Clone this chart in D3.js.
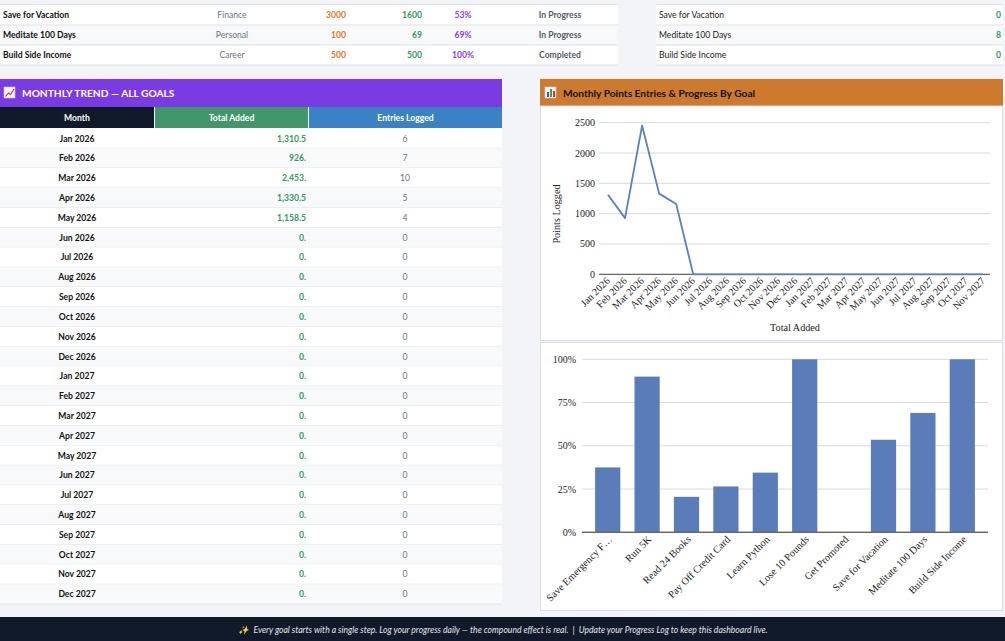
<!DOCTYPE html>
<html><head><meta charset="utf-8">
<script src="https://cdn.jsdelivr.net/npm/d3@7"></script>
<style>
html,body{margin:0;padding:0;background:#f3f4f7;overflow:hidden;}
svg{display:block;}
</style></head>
<body>
<svg id="c" width="1005" height="641"></svg>
<script>
// ---------- DATA ----------
const topGoals = ["Save for Vacation", "Meditate 100 Days", "Build Side Income"];
const topCategories = ["Finance", "Personal", "Career"];
const topTargets = [3000, 100, 500];
const topCurrent = [1600, 69, 500];
const topPct = ["53%", "69%", "100%"];
const topStatus = ["In Progress", "In Progress", "Completed"];
const sideValues = [0, 8, 0];

const months = ["Jan 2026","Feb 2026","Mar 2026","Apr 2026","May 2026","Jun 2026","Jul 2026","Aug 2026","Sep 2026","Oct 2026","Nov 2026","Dec 2026",
  "Jan 2027","Feb 2027","Mar 2027","Apr 2027","May 2027","Jun 2027","Jul 2027","Aug 2027","Sep 2027","Oct 2027","Nov 2027","Dec 2027"];
const totals = [1310.5, 926, 2453, 1330.5, 1158.5, 0, 0, 0, 0, 0, 0, 0, 0, 0, 0, 0, 0, 0, 0, 0, 0, 0, 0, 0];
const entries = [6, 7, 10, 5, 4, 0, 0, 0, 0, 0, 0, 0, 0, 0, 0, 0, 0, 0, 0, 0, 0, 0, 0, 0];
const chartMonthCount = 23;
const yTicksLine = [0, 500, 1000, 1500, 2000, 2500];

const goals = ["Save Emergency F…","Run 5K","Read 24 Books","Pay Off Credit Card","Learn Python","Lose 10 Pounds","Get Promoted","Save for Vacation","Meditate 100 Days","Build Side Income"];
const progress = [0.375, 0.90, 0.205, 0.265, 0.345, 1.0, 0, 0.535, 0.69, 1.0];
const yTicksBar = [0, 0.25, 0.5, 0.75, 1];

const footerText = "✨  Every goal starts with a single step. Log your progress daily — the compound effect is real.  |  Update your Progress Log to keep this dashboard live.";

// ---------- DRAW ----------
const svg = d3.select("#c");
const SANS = "Lato, 'Open Sans', sans-serif";
const SERIF = "'Liberation Serif', 'DejaVu Serif', serif";

// --- top goal rows (left table) ---
const rowY = [5, 25, 45];
const topG = svg.append("g");
topG.append("rect").attr("x",0).attr("y",4).attr("width",618).attr("height",61).attr("fill","#fff");
topG.append("rect").attr("x",0).attr("y",25).attr("width",618).attr("height",20).attr("fill","#f8f9fb");
[4.5,25,45,65].forEach(y=>topG.append("line").attr("x1",0).attr("x2",618).attr("y1",y).attr("y2",y).attr("stroke","#dfe2e7").attr("stroke-width",1.2));
topGoals.forEach((g,i)=>{
  const cy = rowY[i]+13;
  topG.append("text").attr("x",3).attr("y",cy).text(g).attr("font-family",SANS).attr("font-size",8.6).attr("font-weight",700).attr("fill","#111");
  topG.append("text").attr("x",232).attr("y",cy).text(topCategories[i]).attr("text-anchor","middle").attr("font-family",SANS).attr("font-size",8.6).attr("fill","#6b7280");
  topG.append("text").attr("x",346).attr("y",cy).text(topTargets[i]).attr("text-anchor","end").attr("font-family",SANS).attr("font-size",8.6).attr("font-weight",700).attr("fill","#e07a1f");
  topG.append("text").attr("x",422).attr("y",cy).text(topCurrent[i]).attr("text-anchor","end").attr("font-family",SANS).attr("font-size",8.6).attr("font-weight",700).attr("fill","#2f9a62");
  topG.append("text").attr("x",463).attr("y",cy).text(topPct[i]).attr("text-anchor","middle").attr("font-family",SANS).attr("font-size",8.6).attr("font-weight",700).attr("fill","#8a3ef0");
  topG.append("text").attr("x",560).attr("y",cy).text(topStatus[i]).attr("text-anchor","middle").attr("font-family",SANS).attr("font-size",8.6).attr("font-weight",700).attr("fill","#555c66");
});
// right small table
topG.append("rect").attr("x",656).attr("y",4).attr("width",347).attr("height",61).attr("fill","#fff");
topG.append("rect").attr("x",656).attr("y",25).attr("width",347).attr("height",20).attr("fill","#f8f9fb");
[4.5,25,45,65].forEach(y=>topG.append("line").attr("x1",656).attr("x2",1003).attr("y1",y).attr("y2",y).attr("stroke","#dfe2e7").attr("stroke-width",1.2));
topGoals.forEach((g,i)=>{
  const cy = rowY[i]+13;
  topG.append("text").attr("x",659).attr("y",cy).text(g).attr("font-family",SANS).attr("font-size",8.6).attr("fill","#222");
  topG.append("text").attr("x",1001).attr("y",cy).text(sideValues[i]).attr("text-anchor","end").attr("font-family",SANS).attr("font-size",8.6).attr("font-weight",700).attr("fill","#2f9a62");
});

// --- Monthly trend table ---
const L = svg.append("g");
L.append("rect").attr("x",0).attr("y",79).attr("width",502).attr("height",28).attr("fill","#7a3be3");
// icon
L.append("rect").attr("x",4).attr("y",87).attr("width",11).attr("height",11).attr("fill","#f4f1f7").attr("stroke","#cfc6d8").attr("stroke-width",0.6);
L.append("polyline").attr("points","5.5,96.5 8.5,93 10.5,94.5 14,89").attr("fill","none").attr("stroke","#d9342b").attr("stroke-width",1.1);
L.append("text").attr("x",22).attr("y",97).text("MONTHLY TREND — ALL GOALS").attr("font-family",SANS).attr("font-size",10.2).attr("font-weight",700).attr("fill","#fff");
const cols = [{x:0,w:154,c:"#111a2b",t:"Month"},{x:155,w:153,c:"#43956b",t:"Total Added"},{x:309,w:193,c:"#3a82c4",t:"Entries Logged"}];
cols.forEach(c=>{
  L.append("rect").attr("x",c.x).attr("y",107).attr("width",c.w).attr("height",21).attr("fill",c.c);
  L.append("text").attr("x",c.x+c.w/2).attr("y",120.5).text(c.t).attr("text-anchor","middle").attr("font-family",SANS).attr("font-size",8.6).attr("font-weight",700).attr("fill","#fff");
});
const rowScale = d3.scaleBand().domain(months).range([128.5, 604]);
const fmtTotal = v => d3.format(",")(v) + (Number.isInteger(v) ? "." : "");
months.forEach((m,i)=>{
  const y0 = rowScale(m), h = rowScale.bandwidth(), cy = y0 + h/2 + 3.2;
  L.append("rect").attr("x",0).attr("y",y0).attr("width",502).attr("height",h).attr("fill", i%2===0 ? "#ffffff" : "#f8f9fb");
  L.append("line").attr("x1",0).attr("x2",502).attr("y1",y0+h).attr("y2",y0+h).attr("stroke","#e1e4e9").attr("stroke-width",1);
  L.append("text").attr("x",77).attr("y",cy).text(m).attr("text-anchor","middle").attr("font-family",SANS).attr("font-size",8.6).attr("font-weight",700).attr("fill","#111");
  L.append("text").attr("x",306).attr("y",cy).text(fmtTotal(totals[i])).attr("text-anchor","end").attr("font-family",SANS).attr("font-size",8.6).attr("font-weight",700).attr("fill","#2f9a62");
  L.append("text").attr("x",405).attr("y",cy).text(entries[i]).attr("text-anchor","middle").attr("font-family",SANS).attr("font-size",8.6).attr("fill","#6b7280");
});

// --- Right panel ---
const R = svg.append("g");
R.append("rect").attr("x",540).attr("y",79).attr("width",463).attr("height",27).attr("fill","#cd7a2e");
// bar icon
R.append("rect").attr("x",545).attr("y",87).attr("width",11).attr("height",11).attr("fill","#f4f4f6").attr("stroke","#cfcfd6").attr("stroke-width",0.6);
R.append("rect").attr("x",547).attr("y",92).attr("width",2).attr("height",5).attr("fill","#2a62c9");
R.append("rect").attr("x",550).attr("y",89).attr("width",2).attr("height",8).attr("fill","#3aa356");
R.append("rect").attr("x",553).attr("y",91).attr("width",2).attr("height",6).attr("fill","#d23a2b");
R.append("text").attr("x",563).attr("y",96.5).text("Monthly Points Entries & Progress By Goal").attr("font-family",SANS).attr("font-size",10.2).attr("font-weight",700).attr("fill","#111");

// line chart box
R.append("rect").attr("x",540.5).attr("y",106).attr("width",462).attr("height",234.5).attr("fill","#fff").attr("stroke","#d9dce1");
const lineMonths = months.slice(0, chartMonthCount);
const lineVals = totals.slice(0, chartMonthCount);
const xL = d3.scalePoint().domain(lineMonths).range([608, 983]);
const yL = d3.scaleLinear().domain([0, 2500]).range([274.3, 122.7]);
const lg = R.append("g");
yTicksLine.forEach(t=>{
  lg.append("line").attr("x1",599).attr("x2",990).attr("y1",yL(t)).attr("y2",yL(t)).attr("stroke", t===0 ? "#666" : "#dadada").attr("stroke-width", t===0?1.2:1);
  lg.append("text").attr("x",595).attr("y",yL(t)+3.5).text(t).attr("text-anchor","end").attr("font-family",SERIF).attr("font-size",10).attr("fill","#222");
});
lg.append("path").datum(lineVals).attr("fill","none").attr("stroke","#5b7fbe").attr("stroke-width",1.8).attr("stroke-linejoin","round")
  .attr("d", d3.line().x((d,i)=>xL(lineMonths[i])).y(d=>yL(d)));
lineMonths.forEach(m=>{
  lg.append("text").attr("transform",`translate(${xL(m)+2.5},${281.5}) rotate(-45)`).text(m).attr("text-anchor","end").attr("font-family",SERIF).attr("font-size",10.2).attr("fill","#222");
});
lg.append("text").attr("transform","translate(560,214) rotate(-90)").text("Points Logged").attr("text-anchor","middle").attr("font-family",SERIF).attr("font-size",10.2).attr("fill","#222");
lg.append("text").attr("x",795).attr("y",331).text("Total Added").attr("text-anchor","middle").attr("font-family",SERIF).attr("font-size",10.2).attr("fill","#222");

// bar chart box
R.append("rect").attr("x",540.5).attr("y",342.5).attr("width",462).attr("height",268).attr("fill","#fff").attr("stroke","#d9dce1");
const xB = d3.scaleBand().domain(goals).range([588, 982]).paddingInner(0.36).paddingOuter(0.18);
const yB = d3.scaleLinear().domain([0, 1]).range([532.3, 359.3]);
const bg = R.append("g");
yTicksBar.forEach(t=>{
  bg.append("line").attr("x1",582).attr("x2",988).attr("y1",yB(t)).attr("y2",yB(t)).attr("stroke", t===0 ? "#666" : "#dadada").attr("stroke-width", t===0?1.2:1);
  bg.append("text").attr("x",576).attr("y",yB(t)+3.5).text(d3.format(".0%")(t)).attr("text-anchor","end").attr("font-family",SERIF).attr("font-size",10).attr("fill","#222");
});
bg.selectAll("rect.bar").data(progress).enter().append("rect").attr("class","bar")
  .attr("x",(d,i)=>xB(goals[i])).attr("width",xB.bandwidth())
  .attr("y",d=>yB(d)).attr("height",d=>yB(0)-yB(d)).attr("fill","#5a7dba");
bg.append("line").attr("x1",582).attr("x2",988).attr("y1",yB(0)).attr("y2",yB(0)).attr("stroke","#666").attr("stroke-width",1.2);
goals.forEach(g=>{
  bg.append("text").attr("transform",`translate(${xB(g)+xB.bandwidth()/2+5},${540}) rotate(-45)`).text(g).attr("text-anchor","end").attr("font-family",SERIF).attr("font-size",10.3).attr("fill","#222");
});

// --- footer ---
svg.append("rect").attr("x",0).attr("y",617).attr("width",1005).attr("height",24).attr("fill","#111a2b");
svg.append("text").attr("x",503).attr("y",633).text(footerText).attr("text-anchor","middle").attr("font-family",SANS).attr("font-size",8.6).attr("font-style","italic").attr("fill","#e5e7eb").attr("xml:space","preserve");
</script>
</body></html>
